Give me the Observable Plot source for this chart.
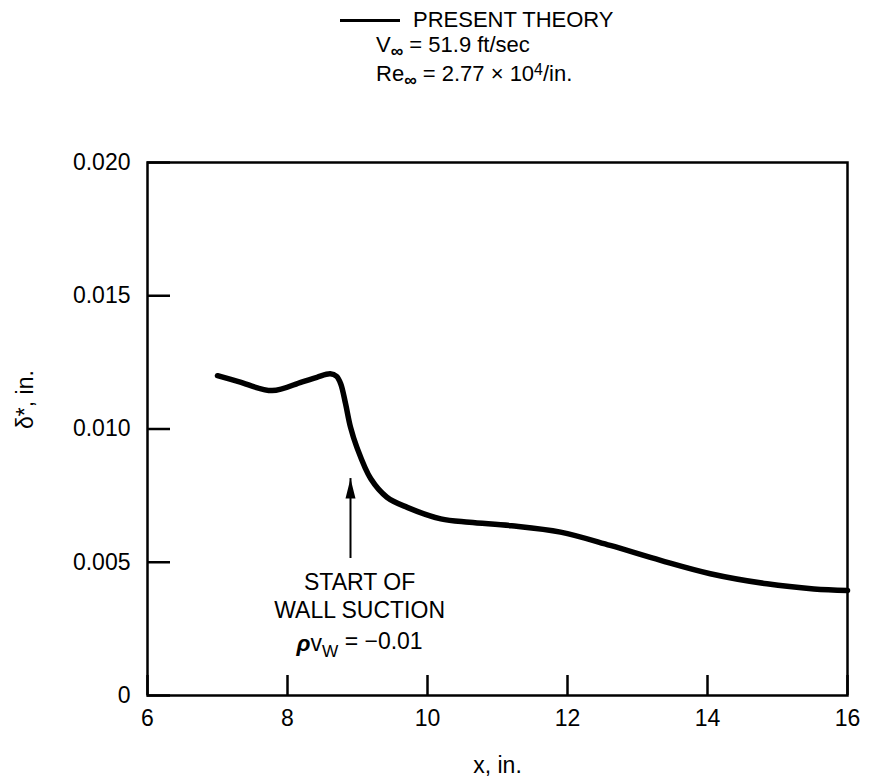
<!DOCTYPE html>
<html>
<head>
<meta charset="utf-8">
<script src="https://cdn.jsdelivr.net/npm/d3@7"></script>
<script src="https://cdn.jsdelivr.net/npm/@observablehq/plot@0.6"></script>
<style>
  body { margin: 0; background: #fff; font-family: "Liberation Sans", Arial, sans-serif; color: #000; }
  #head { position: relative; width: 871px; height: 140px; }
  #head .t { position: absolute; font-size: 22px; line-height: 22px; white-space: nowrap; }
  #head .line { position: absolute; left: 340px; top: 19px; width: 60px; border-top: 3px solid #000; }
  .sub { font-size: 0.8em; position: relative; top: 0.3em; font-weight: bold; }
  .sup { font-size: 0.72em; position: relative; top: -0.4em; }
</style>
</head>
<body>
<div id="head">
  <div class="line"></div>
  <div class="t" style="left:413px; top:9px;">PRESENT THEORY</div>
  <div class="t" style="left:376px; top:34px;">V<span class="sub">∞</span> = 51.9 ft/sec</div>
  <div class="t" style="left:376px; top:63px;">Re<span class="sub">∞</span> = 2.77 × 10<span class="sup">4</span>/in.</div>
</div>
<div id="chart"></div>
<script>
// Curve: present theory, displacement thickness vs x
const xValues = [7.0, 7.3, 7.78, 8.2, 8.42, 8.61, 8.7, 8.76, 8.83, 8.9, 8.99, 9.19, 9.42, 9.71, 10.19, 10.6, 11.2, 11.9, 12.61, 13.33, 14.04, 14.85, 15.52, 16.0];
const deltaValues = [0.0120, 0.01178, 0.01144, 0.01176, 0.01194, 0.01207, 0.01198, 0.01170, 0.01094, 0.01007, 0.00932, 0.00813, 0.00744, 0.00706, 0.00663, 0.00650, 0.00637, 0.00613, 0.00563, 0.00507, 0.00457, 0.00419, 0.00400, 0.00394];

const xTicks = [6, 8, 10, 12, 14, 16];
const yTicks = [0, 0.005, 0.010, 0.015, 0.020];
const yTickLabels = ["0", "0.005", "0.010", "0.015", "0.020"];

// Annotation: start of wall suction
const arrowX = [8.9];
const arrowFrom = [0.00514];
const arrowTo = [0.00814];
const noteLines = ["START OF", "WALL SUCTION", "ρvW = −0.01"];
const noteX = [9.03, 9.03, 9.03];
const noteY = [0.00424, 0.00319, 0.00195];

const xLabel = "x, in.";
const yLabel = "δ*, in.";

const curve = xValues.map((x, i) => ({x, y: deltaValues[i]}));
const notes = noteLines.map((t, i) => ({t, x: noteX[i], y: noteY[i]}));
const arrows = arrowX.map((x, i) => ({x, y1: arrowFrom[i], y2: arrowTo[i]}));

const W = 871, H = 644, mL = 147, mR = 24, mT = 22, mB = 89;

const headSymbol = {
  draw(ctx) {
    ctx.moveTo(0, 0);
    ctx.lineTo(5, 20);
    ctx.lineTo(-5, 20);
    ctx.closePath();
  }
};

const chart = Plot.plot({
  width: W,
  height: H,
  marginLeft: mL,
  marginRight: mR,
  marginTop: mT,
  marginBottom: mB,
  style: {fontFamily: "Liberation Sans, Arial, sans-serif", fontSize: "23px", color: "#000", background: "#fff"},
  x: {domain: [6, 16], ticks: xTicks, tickSize: 0, tickPadding: 14, label: null},
  y: {domain: [0, 0.020], ticks: yTicks, tickSize: 0, tickPadding: 17, label: null,
      tickFormat: d => yTickLabels[yTicks.findIndex(v => Math.abs(v - d) < 1e-9)]},
  marks: [
    Plot.tickY(yTicks, {y: d => d, stroke: "#000", strokeWidth: 2.5, insetRight: W - mL - mR - 23}),
    Plot.tickX(xTicks, {x: d => d, stroke: "#000", strokeWidth: 2.5, insetTop: H - mT - mB - 20}),
    Plot.frame({stroke: "#000", strokeWidth: 2.5}),
    Plot.line(curve, {x: "x", y: "y", stroke: "#000", strokeWidth: 5.5, curve: "catmull-rom", strokeLinecap: "round", strokeLinejoin: "round"}),
    Plot.ruleX(arrows, {x: "x", y1: "y1", y2: "y2", stroke: "#000", strokeWidth: 2}),
    Plot.dot(arrows, {x: "x", y: "y2", symbol: headSymbol, fill: "#000", stroke: null, r: 5}),
    Plot.text(notes, {x: "x", y: "y", text: "t", fill: "#000", textAnchor: "middle", fontSize: 23}),
    Plot.text([xLabel], {frameAnchor: "bottom", dy: 77, fill: "#000", fontSize: 23}),
    Plot.text([yLabel], {frameAnchor: "left", dx: -122, rotate: -90, fill: "#000", fontSize: 23})
  ]
});

// subscript W in the suction annotation
d3.select(chart).selectAll("text").each(function() {
  if (this.textContent === "ρvW = −0.01" && this.children.length === 0) {
    const t = d3.select(this);
    t.text(null);
    t.append("tspan").attr("font-weight", "bold").attr("font-style", "italic").text("ρ");
    t.append("tspan").text("v");
    t.append("tspan").attr("font-size", "0.75em").attr("dy", "0.35em").text("W");
    t.append("tspan").attr("dy", "-0.35em").text(" = −0.01");
  }
});

document.getElementById("chart").appendChild(chart);
</script>
</body>
</html>
